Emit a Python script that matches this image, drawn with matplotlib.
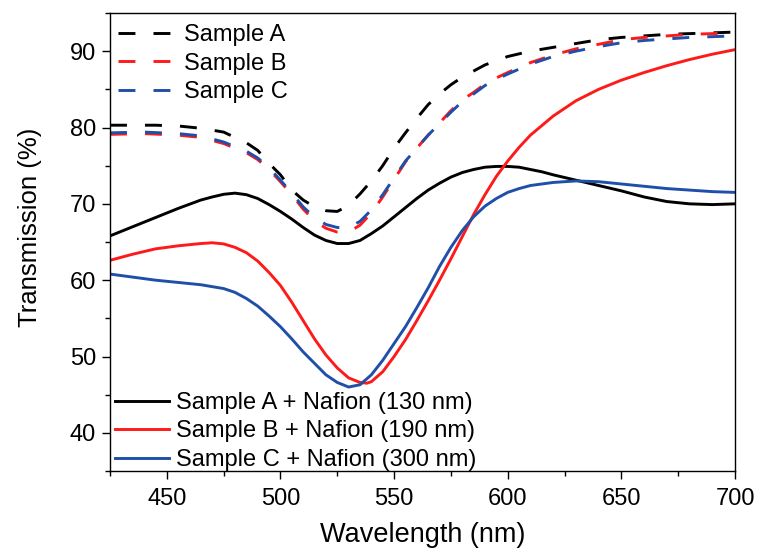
import matplotlib
matplotlib.use("Agg")
import matplotlib.pyplot as plt
from matplotlib.ticker import MultipleLocator

plt.rcParams['font.family'] = ['Liberation Sans', 'DejaVu Sans']

# ---- data ----
wl_a = [425, 435, 445, 455, 465, 475, 485, 490, 495, 500, 505, 510, 515, 520, 525, 530,
        535, 540, 545, 550, 555, 560, 565, 570, 575, 580, 590, 600, 610, 620, 630, 640,
        650, 660, 670, 680, 690, 700]
sample_a = [80.3, 80.3, 80.3, 80.2, 79.9, 79.4, 78.0, 77.0, 75.3, 73.8, 71.8, 70.5, 69.6,
            69.1, 69.0, 69.8, 71.3, 73.0, 75.0, 77.3, 79.3, 81.2, 83.0, 84.4, 85.6, 86.6,
            88.2, 89.3, 90.0, 90.5, 91.0, 91.5, 91.8, 92.0, 92.2, 92.3, 92.4, 92.5]

wl_bc = [425, 440, 455, 465, 475, 485, 490, 495, 500, 505, 510, 515, 520, 525, 530, 535,
         540, 545, 550, 555, 560, 565, 570, 575, 580, 585, 590, 595, 600, 610, 620, 630,
         640, 650, 660, 670, 680, 690, 700]
sample_b = [79.1, 79.2, 79.0, 78.7, 77.9, 76.7, 75.8, 74.5, 72.9, 71.2, 69.3, 67.8, 66.8,
            66.3, 66.3, 67.2, 68.8, 70.9, 73.2, 75.5, 77.3, 79.0, 80.6, 82.2, 83.6, 84.6,
            85.7, 86.5, 87.2, 88.5, 89.5, 90.3, 90.9, 91.5, 91.8, 92.0, 92.2, 92.3, 92.4]
sample_c = [79.3, 79.4, 79.2, 78.9, 78.1, 76.9, 76.0, 74.7, 73.1, 71.4, 69.6, 68.2, 67.3,
            66.9, 66.9, 67.7, 69.2, 71.2, 73.4, 75.6, 77.3, 79.0, 80.5, 82.0, 83.4, 84.4,
            85.5, 86.3, 87.0, 88.3, 89.3, 90.0, 90.6, 91.1, 91.4, 91.6, 91.8, 91.9, 92.0]

wl_a_n = [425, 435, 445, 455, 465, 470, 475, 480, 485, 490, 495, 500, 505, 510, 515, 520,
          525, 530, 535, 540, 545, 550, 555, 560, 565, 570, 575, 580, 585, 590, 595, 600,
          605, 610, 615, 620, 630, 640, 650, 660, 670, 680, 690, 700]
sample_a_nafion = [65.8, 67.0, 68.2, 69.4, 70.5, 70.9, 71.25, 71.4, 71.2, 70.7, 69.9, 69.0,
                   68.0, 66.9, 65.9, 65.2, 64.8, 64.8, 65.2, 66.1, 67.1, 68.3, 69.5, 70.7,
                   71.8, 72.7, 73.5, 74.1, 74.5, 74.8, 74.9, 74.9, 74.8, 74.5, 74.2, 73.8,
                   73.1, 72.4, 71.7, 70.9, 70.3, 70.0, 69.9, 70.0]

wl_b_n = [425, 435, 445, 455, 465, 470, 475, 480, 485, 490, 495, 500, 505, 510, 515, 520,
          525, 530, 535, 538, 540, 545, 550, 555, 560, 565, 570, 575, 580, 585, 590, 595,
          600, 605, 610, 620, 630, 640, 650, 660, 670, 680, 690, 700]
sample_b_nafion = [62.6, 63.4, 64.1, 64.5, 64.8, 64.9, 64.75, 64.3, 63.6, 62.5, 61.0, 59.3,
                   57.1, 54.7, 52.3, 50.2, 48.5, 47.2, 46.6, 46.5, 46.7, 48.0, 50.0, 52.2,
                   54.7, 57.3, 60.0, 62.8, 65.7, 68.6, 71.2, 73.6, 75.6, 77.4, 79.0, 81.5,
                   83.5, 85.0, 86.2, 87.2, 88.1, 88.9, 89.6, 90.2]

wl_c_n = [425, 435, 445, 455, 465, 475, 480, 485, 490, 495, 500, 505, 510, 515, 520, 525,
          530, 535, 540, 545, 550, 555, 560, 565, 570, 575, 580, 585, 590, 595, 600, 605,
          610, 620, 630, 640, 650, 660, 670, 680, 690, 700]
sample_c_nafion = [60.8, 60.4, 60.0, 59.7, 59.4, 58.9, 58.4, 57.6, 56.6, 55.3, 53.9, 52.3,
                   50.6, 49.1, 47.6, 46.6, 46.0, 46.3, 47.6, 49.5, 51.7, 53.9, 56.4, 59.0,
                   61.8, 64.3, 66.5, 68.3, 69.7, 70.7, 71.5, 72.0, 72.4, 72.8, 73.0, 72.9,
                   72.6, 72.3, 72.0, 71.8, 71.6, 71.5]

labels_dashed = ["Sample A", "Sample B", "Sample C"]
labels_solid = ["Sample A + Nafion (130 nm)", "Sample B + Nafion (190 nm)",
                "Sample C + Nafion (300 nm)"]
xticks = [450, 500, 550, 600, 650, 700]
yticks = [40, 50, 60, 70, 80, 90]

BLACK = "#000000"
RED = "#ff1a1a"
BLUE = "#1f4fa8"
LW = 2.1
DASH = (5.8, 6.2)
FS = 17

fig = plt.figure(figsize=(7.57, 5.58), dpi=100)
ax = fig.add_axes([110 / 757, 1 - 471 / 558, 625 / 757, 458 / 558])

l_a, = ax.plot(wl_a, sample_a, color=BLACK, lw=LW, dashes=DASH)
l_b, = ax.plot(wl_bc, sample_b, color=RED, lw=LW, dashes=DASH)
l_c, = ax.plot(wl_bc, sample_c, color=BLUE, lw=LW, dashes=DASH)
s_a, = ax.plot(wl_a_n, sample_a_nafion, color=BLACK, lw=LW)
s_b, = ax.plot(wl_b_n, sample_b_nafion, color=RED, lw=LW)
s_c, = ax.plot(wl_c_n, sample_c_nafion, color=BLUE, lw=LW)

ax.set_xlim(425, 700)
ax.set_ylim(35, 95)
ax.set_xticks(xticks)
ax.set_yticks(yticks)
ax.xaxis.set_minor_locator(MultipleLocator(25))
ax.yaxis.set_minor_locator(MultipleLocator(5))
ax.tick_params(which='major', direction='out', length=6, width=1.0, labelsize=FS, pad=4)
ax.tick_params(which='minor', direction='out', length=3.5, width=1.0)
ax.tick_params(axis='x', which='major', pad=6)
for sp in ax.spines.values():
    sp.set_linewidth(1.0)

ax.set_xlabel("Wavelength (nm)", fontsize=19.5)
ax.set_ylabel("Transmission (%)", fontsize=18.5)
ax.xaxis.set_label_coords(0.5, -0.112)
ax.yaxis.set_label_coords(-0.108, 0.533)

leg1 = ax.legend([l_a, l_b, l_c], labels_dashed, loc='upper left',
                 bbox_to_anchor=(0.013, 0.976), frameon=False, fontsize=FS,
                 handlelength=2.2, handletextpad=0.6, labelspacing=0.28,
                 borderpad=0, borderaxespad=0)
ax.add_artist(leg1)
ax.legend([s_a, s_b, s_c], labels_solid, loc='lower left',
          bbox_to_anchor=(0.008, 0.0), frameon=False, fontsize=FS,
          handlelength=2.3, handletextpad=0.28, labelspacing=0.28,
          borderpad=0, borderaxespad=0)

fig.savefig("out.png", dpi=100)
